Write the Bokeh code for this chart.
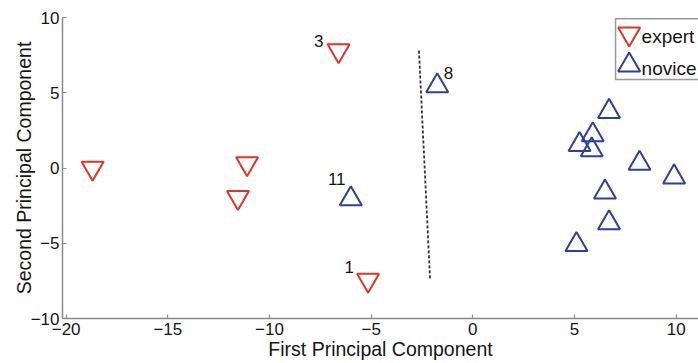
from bokeh.plotting import figure
from bokeh.models import Range1d, FixedTicker
from bokeh.core.properties import value
from bokeh.embed import file_html
from bokeh.resources import INLINE

# ---- data ----
expert_x = [-18.7, -11.1, -11.55, -6.6, -5.15]
expert_y = [0.0, 0.3, -1.95, 7.8, -7.45]
novice_x = [-1.75, -6.0, 6.7, 5.9, 5.25, 5.85, 8.2, 9.9, 6.5, 6.7, 5.1]
novice_y = [5.45, -2.05, 3.75, 2.2, 1.55, 1.2, 0.3, -0.6, -1.6, -3.65, -5.1]

# point annotations (left of point / right of point)
labels_left_text = ["3", "1", "11"]
labels_left_x = [-7.34, -5.85, -6.26]
labels_left_y = [8.04, -6.98, -1.13]
labels_right_text = ["8"]
labels_right_x = [-1.43]
labels_right_y = [5.94]

# separating line
boundary_x = [-2.65, -2.1]
boundary_y = [7.8, -7.45]

x_ticks = [-20, -15, -10, -5, 0, 5, 10]
y_ticks = [-10, -5, 0, 5, 10]
legend_labels = ["expert", "novice"]

RED = "#df3526"
BLUE = "#2d409c"
GRAY = "#8a8a8a"
TXT = "#161616"
FONT = "Liberation Sans"
TEXT_SHIFT = -6  # screen-pixel baseline correction

p = figure(width=698, height=363, output_backend="svg", toolbar_location=None,
           x_range=Range1d(-20.18, 11.1), y_range=Range1d(-10, 10),
           min_border_left=62, min_border_right=0, min_border_top=17, min_border_bottom=45)
p.outline_line_color = None
p.xgrid.visible = False
p.ygrid.visible = False
p.background_fill_color = "white"
p.border_fill_color = "white"

p.xaxis.ticker = FixedTicker(ticks=x_ticks)
p.yaxis.ticker = FixedTicker(ticks=y_ticks)
p.xaxis.axis_label = "First Principal Component"
p.yaxis.axis_label = "Second Principal Component"
for ax in (p.xaxis, p.yaxis):
    ax.axis_line_color = GRAY
    ax.axis_line_width = 1.5
    ax.major_tick_line_color = GRAY
    ax.major_tick_line_width = 1.2
    ax.major_tick_in = 4
    ax.major_tick_out = 0
    ax.minor_tick_line_color = None
    ax.major_label_text_font = FONT
    ax.major_label_text_font_size = "17px"
    ax.major_label_text_color = TXT
    ax.axis_label_text_font = FONT
    ax.axis_label_text_font_size = "19.5px"
    ax.axis_label_text_font_style = "normal"
    ax.axis_label_text_color = TXT
p.xaxis.major_label_standoff = 4
p.xaxis.axis_label_standoff = 0
p.yaxis.major_label_standoff = 3
p.yaxis.axis_label_standoff = -7

# boundary line
p.line(boundary_x, boundary_y, line_color="#333333", line_width=1.8, line_dash="3 2")

# markers
p.scatter(expert_x, expert_y, marker="inverted_triangle", size=22,
          fill_color=None, line_color=RED, line_width=2)
p.scatter(novice_x, novice_y, marker="triangle", size=22,
          fill_color=None, line_color=BLUE, line_width=2)

# annotations
p.text(labels_left_x, labels_left_y, text=labels_left_text, text_align="right",
       text_baseline="alphabetic", y_offset=TEXT_SHIFT,
       text_font=value(FONT), text_font_size="17px", text_color=TXT)
p.text(labels_right_x, labels_right_y, text=labels_right_text, text_align="left",
       text_baseline="alphabetic", y_offset=TEXT_SHIFT,
       text_font=value(FONT), text_font_size="17px", text_color=TXT)

# legend (drawn manually so symbols match marker size)
p.quad(left=[7.02], right=[12.0], top=[9.92], bottom=[5.88],
       fill_color="white", line_color="#999999", line_width=1.5)
p.scatter([7.69], [8.91], marker="inverted_triangle", size=22,
          fill_color=None, line_color=RED, line_width=2)
p.scatter([7.69], [6.83], marker="triangle", size=22,
          fill_color=None, line_color=BLUE, line_width=2)
p.text([8.3, 8.3], [8.33, 6.23], text=legend_labels, text_align="left",
       text_baseline="alphabetic", y_offset=TEXT_SHIFT,
       text_font=value(FONT), text_font_size="19px", text_color=TXT)

open("out.html", "w").write(file_html(p, INLINE))
